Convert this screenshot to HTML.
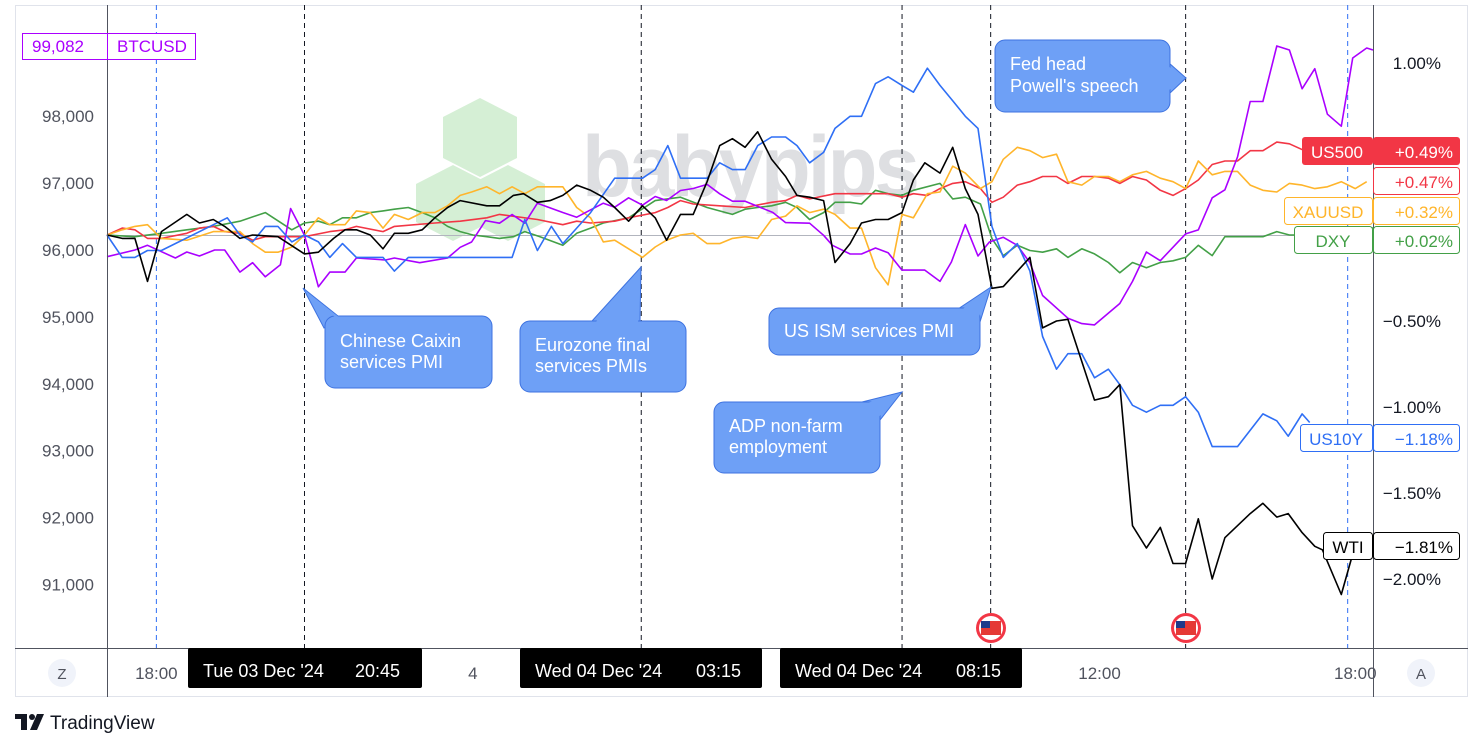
<!DOCTYPE html>
<html><head><meta charset="utf-8">
<style>
html,body{margin:0;padding:0;background:#fff;}
body{width:1484px;height:749px;overflow:hidden;font-family:"Liberation Sans",sans-serif;}
svg{display:block}
</style></head>
<body>
<svg id="chart" width="1484" height="749" viewBox="0 0 1484 749" xmlns="http://www.w3.org/2000/svg" font-family="Liberation Sans, sans-serif">
  <rect x="15.5" y="5.5" width="1452" height="691" fill="#fff" stroke="#e0e3eb"/>
  <!-- watermark -->
  <g>
    <polygon points="480,98 517,117 517,158 480,177 443,158 443,117" fill="#d5efd5"/>
    <polygon points="453,165 490,184 490,222 453,241 416,222 416,184" fill="#d5efd5"/>
    <polygon points="508,165 545,184 545,222 508,241 471,222 471,184" fill="#d5efd5"/>
    <text x="582" y="196" font-size="86" font-weight="bold" fill="#dedfe2" letter-spacing="-3" textLength="335" lengthAdjust="spacingAndGlyphs">babypips</text>
  </g>
  <line x1="107" y1="235.5" x2="1373" y2="235.5" stroke="#b2b5be" stroke-width="1"/>
  <g id="vlines"></g>
  <g id="series"></g>
  <line x1="107.5" y1="5" x2="107.5" y2="697" stroke="#50535e"/>
  <line x1="1373.5" y1="5" x2="1373.5" y2="697" stroke="#50535e"/>
  <line x1="15" y1="648.5" x2="1468" y2="648.5" stroke="#50535e"/>
  <g id="leftTicks" font-size="17" fill="#50535e" text-anchor="end"></g>
  <g id="rightTicks" font-size="17" fill="#131722" text-anchor="end"></g>
  <g id="timeTicks" font-size="17" fill="#50535e" text-anchor="middle"></g>

  <g font-size="18" fill="#fff">
    <g>
      <polygon points="303,288 338,316 324,328" fill="#6ea0f6" stroke="#3d72e0"/>
      <rect x="325" y="316" width="167" height="72" rx="10" fill="#6ea0f6" stroke="#3d72e0"/>
      <polygon points="304,290 336,318 326,330 330,330 340,318" fill="#6ea0f6"/>
      <text x="340" y="347">Chinese Caixin</text><text x="340" y="368">services PMI</text>
    </g>
    <g>
      <polygon points="641,267 592,321 640,321" fill="#6ea0f6" stroke="#3d72e0"/>
      <rect x="520" y="321" width="166" height="71" rx="10" fill="#6ea0f6" stroke="#3d72e0"/>
      <polygon points="640,270 595,323 638,323" fill="#6ea0f6"/>
      <text x="535" y="351">Eurozone final</text><text x="535" y="372">services PMIs</text>
    </g>
    <g>
      <polygon points="902,392 858,403 880,420" fill="#6ea0f6" stroke="#3d72e0"/>
      <rect x="714" y="402" width="166" height="71" rx="10" fill="#6ea0f6" stroke="#3d72e0"/>
      <polygon points="898,394 860,405 878,418" fill="#6ea0f6"/>
      <text x="729" y="432">ADP non-farm</text><text x="729" y="453">employment</text>
    </g>
    <g>
      <polygon points="991,287 958,309 980,322" fill="#6ea0f6" stroke="#3d72e0"/>
      <rect x="769" y="308" width="211" height="47" rx="10" fill="#6ea0f6" stroke="#3d72e0"/>
      <polygon points="988,290 960,311 978,320" fill="#6ea0f6"/>
      <text x="784" y="337">US ISM services PMI</text>
    </g>
    <g>
      <polygon points="1186,78 1169,63 1169,94" fill="#6ea0f6" stroke="#3d72e0"/>
      <rect x="995" y="40" width="175" height="72" rx="10" fill="#6ea0f6" stroke="#3d72e0"/>
      <polygon points="1183,78 1167,65 1167,92" fill="#6ea0f6"/>
      <text x="1010" y="70">Fed head</text><text x="1010" y="92">Powell's speech</text>
    </g>
  </g>

  <g>
    <circle cx="991" cy="628" r="15" fill="#f23645"/><circle cx="991" cy="628" r="12" fill="#fff"/>
    <rect x="981" y="621" width="20" height="14" fill="#e53935"/><rect x="981" y="621" width="9" height="7" fill="#1e3a8a"/>
  </g>
  <g>
    <circle cx="1186" cy="628" r="15" fill="#f23645"/><circle cx="1186" cy="628" r="12" fill="#fff"/>
    <rect x="1176" y="621" width="20" height="14" fill="#e53935"/><rect x="1176" y="621" width="9" height="7" fill="#1e3a8a"/>
  </g>

  <g font-size="17">
    <rect x="22.5" y="33.5" width="85" height="26" fill="#fff" stroke="#aa00ff"/>
    <text x="32" y="52" fill="#aa00ff">99,082</text>
    <rect x="107.5" y="33.5" width="88" height="26" fill="#fff" stroke="#aa00ff"/>
    <text x="117" y="52" fill="#aa00ff">BTCUSD</text>
  </g>
  <g font-size="17">
    <g>
      <rect x="1302" y="137" width="71" height="28" rx="3" fill="#f23645"/><text x="1337" y="158" fill="#fff" text-anchor="middle">US500</text>
      <rect x="1373" y="137" width="87" height="28" rx="3" fill="#f23645"/><text x="1453" y="158" fill="#fff" text-anchor="end">+0.49%</text>
    </g>
    <g>
      <rect x="1373.5" y="167.5" width="86" height="27" rx="3" fill="#fff" stroke="#f23645"/><text x="1453" y="188" fill="#f23645" text-anchor="end">+0.47%</text>
    </g>
    <g>
      <rect x="1284.5" y="197.5" width="88" height="27" rx="3" fill="#fff" stroke="#ffb52b"/><text x="1328" y="218" fill="#ffb52b" text-anchor="middle">XAUUSD</text>
      <rect x="1373.5" y="197.5" width="86" height="27" rx="3" fill="#fff" stroke="#ffb52b"/><text x="1453" y="218" fill="#ffb52b" text-anchor="end">+0.32%</text>
    </g>
    <g>
      <rect x="1294.5" y="226.5" width="78" height="27" rx="3" fill="#fff" stroke="#43a047"/><text x="1333" y="247" fill="#43a047" text-anchor="middle">DXY</text>
      <rect x="1373.5" y="226.5" width="86" height="27" rx="3" fill="#fff" stroke="#43a047"/><text x="1453" y="247" fill="#43a047" text-anchor="end">+0.02%</text>
    </g>
    <g>
      <rect x="1300.5" y="424.5" width="72" height="27" rx="3" fill="#fff" stroke="#2f6ff5"/><text x="1336" y="445" fill="#2f6ff5" text-anchor="middle">US10Y</text>
      <rect x="1373.5" y="424.5" width="86" height="27" rx="3" fill="#fff" stroke="#2f6ff5"/><text x="1453" y="445" fill="#2f6ff5" text-anchor="end">−1.18%</text>
    </g>
    <g>
      <rect x="1323.5" y="532.5" width="49" height="27" rx="3" fill="#fff" stroke="#000"/><text x="1348" y="553" fill="#000" text-anchor="middle">WTI</text>
      <rect x="1373.5" y="532.5" width="86" height="27" rx="3" fill="#fff" stroke="#000"/><text x="1453" y="553" fill="#000" text-anchor="end">−1.81%</text>
    </g>
  </g>

  <g font-size="18" fill="#fff">
    <g><rect x="188" y="648" width="234" height="40" rx="2" fill="#000"/><text x="203" y="677">Tue 03 Dec '24</text><text x="355" y="677">20:45</text></g>
    <g><rect x="520" y="648" width="242" height="40" rx="2" fill="#000"/><text x="535" y="677">Wed 04 Dec '24</text><text x="696" y="677">03:15</text></g>
    <g><rect x="780" y="648" width="242" height="40" rx="2" fill="#000"/><text x="795" y="677">Wed 04 Dec '24</text><text x="956" y="677">08:15</text></g>
  </g>
  <g><circle cx="62" cy="673" r="14" fill="#f0f3fa"/><text x="62" y="679" font-size="15" fill="#50535e" text-anchor="middle">Z</text></g>
  <g><circle cx="1421" cy="673" r="14" fill="#f0f3fa"/><text x="1421" y="679" font-size="15" fill="#50535e" text-anchor="middle">A</text></g>

  <g>
    <path d="M15 714h12v16h-6v-11h-6z" fill="#131722"/>
    <circle cx="32" cy="717" r="3" fill="#131722"/>
    <polygon points="37,714 44,714 37,730 30,730" fill="#131722"/>
    <text x="50" y="729" font-size="19" fill="#131722">TradingView</text>
  </g>
</svg>
<script>
const btcT = [0,2.2,3.2,5.4,6.3,7.3,8.5,9.3,10.5,11.5,12.5,13.7,14.5,15.6,16.7,17.6,18.8,19.7,22,22.7,24.7,26.9,27.9,28.8,29.9,31,32,33,34,36,37.1,39.2,40.1,41.2,42.3,43.3,44.2,45.3,46.3,47.4,48.4,49.4,50.4,52.6,53.6,55.5,56.6,57.3,58.7,59.6,60.7,61.7,62.8,64.6,65.8,66.7,67.8,68.8,69.7,70.8,71.9,72.9,73.9,75.9,77,78,80,81,82.1,83.2,85.2,86.2,87.3,88.3,89.3,90.3,91.3,92.4,93.4,94.4,95.4,96.4,97.5,98.4,99.5,100];
const btcV = [95900,96000,96070,95880,95970,95910,96000,96000,95670,95810,95600,95780,96620,96220,95450,95670,95670,95880,95850,95880,95810,95880,96040,96120,96440,96400,96530,96400,96700,96560,96490,96700,96640,96780,96670,96800,96740,96890,96920,96980,96840,96730,96730,96560,96410,96400,96220,96070,95940,95940,96030,95960,95700,95700,95530,95820,96380,95910,96120,96190,96070,95810,95320,94980,94900,94880,95200,95530,95970,95840,96240,96300,96780,96900,97390,98220,98220,99050,98990,98410,98710,98030,97850,98870,99020,98990];

const wtiT = [0,1.2,2.2,3.2,4.3,6.3,7.3,8.4,9.3,10.5,11.5,13.5,15.6,16.7,17.9,18.8,19.7,20.8,21.8,22.7,23.8,24.9,25.9,26.9,27.9,30,31,32.1,32.9,34,35,36,37.1,38.2,39.2,40.1,41.2,42.3,43.3,44.2,45.3,46.3,47.4,48.4,49.4,50.4,51.4,52.5,53.6,54.5,55.5,56.6,57.5,58.7,59.6,60.7,61.7,62.8,63.7,64.6,65.8,66.8,67.8,68.8,69.9,70.8,72.9,73.9,75,75.9,78,79.1,80,81,82.1,83.2,84.2,85.2,86.2,87.3,88.3,90.3,91.3,92.4,93.3,94.4,95.4,96,97.5,98.3];
const wtiV = [0,-0.02,-0.02,-0.27,0.02,0.12,0.07,0.09,0.05,-0.02,0,-0.01,-0.11,-0.10,-0.02,0.03,0.03,0,-0.08,0.01,0.01,0.03,0.10,0.16,0.20,0.17,0.17,0.23,0.24,0.19,0.20,0.23,0.29,0.26,0.22,0.16,0.08,0.17,0.10,-0.03,0.12,0.12,0.31,0.52,0.56,0.51,0.60,0.44,0.34,0.23,0.22,0.20,-0.16,-0.05,0.07,0.09,0.09,0.13,0.32,0.42,0.36,0.51,0.27,0.12,-0.31,-0.30,-0.13,-0.54,-0.50,-0.49,-0.96,-0.94,-0.87,-1.69,-1.82,-1.70,-1.91,-1.91,-1.65,-2.00,-1.76,-1.62,-1.56,-1.64,-1.62,-1.73,-1.81,-1.83,-2.09,-1.88];

const us10yT = [0,1.2,2.2,3.2,4.3,9.5,10.5,11.5,12.5,13.5,14.6,15.6,16.7,17.6,18.6,19.7,21.8,22.7,23.8,32,33,34,35.1,36,38.2,40.1,42.3,43.3,44.3,45.3,47.4,48.4,49.4,50.4,51.4,52.5,53.6,54.5,55.5,56.6,57.5,58.7,59.6,60.7,61.7,62.8,63.7,64.8,65.8,66.8,67.8,68.8,69.9,70.8,71.9,72.9,73.9,75,75.9,77,78,79.1,80,81,82.1,83.2,84.2,85.2,86.2,87.3,89.3,91.3,92.4,93.3,94.4,95];
const us10yV = [0,-0.13,-0.13,-0.09,-0.09,0.10,0,-0.04,0.05,0.05,-0.04,0,-0.04,-0.13,-0.05,-0.13,-0.13,-0.21,-0.13,-0.13,0.09,-0.09,0.05,-0.05,0.13,0.33,0.33,0.38,0.52,0.33,0.33,0.42,0.38,0.38,0.52,0.57,0.57,0.52,0.42,0.48,0.62,0.69,0.69,0.88,0.92,0.87,0.83,0.97,0.87,0.78,0.69,0.62,0.05,-0.13,-0.05,-0.21,-0.59,-0.78,-0.69,-0.69,-0.83,-0.78,-0.87,-0.99,-1.03,-0.99,-0.99,-0.94,-1.03,-1.23,-1.23,-1.04,-1.08,-1.17,-1.04,-1.09];

const us500T = [0,1.2,2.2,3.2,4.3,6.3,7.3,8.4,9.3,10.5,11.5,12.5,15.6,17.6,18.8,19.7,21.8,22.7,25.9,27.9,30,31,34,36,37.1,38.2,40.1,41.2,43.3,44.3,45.3,46.3,48.4,50.4,52.5,53.6,54.5,55.5,57.5,59.6,61.7,62.8,63.7,64.8,65.8,66.8,67.8,69,69.9,70.8,71.9,72.9,73.9,75,75.9,77,78,79.1,80,81,82.1,83.2,84.2,85.2,86.2,87.3,88.3,89.3,90.3,91.3,92.4,93.4,94.6];
const us500V = [0,0.04,0.03,-0.02,-0.02,0.01,0.04,0.05,0.02,0.01,-0.03,-0.01,-0.01,0.02,0.03,0.05,0.02,0.05,0.07,0.08,0.10,0.12,0.09,0.06,0.08,0.07,0.08,0.10,0.13,0.16,0.20,0.18,0.17,0.16,0.19,0.20,0.23,0.21,0.24,0.24,0.24,0.22,0.24,0.23,0.27,0.30,0.31,0.27,0.19,0.22,0.29,0.31,0.34,0.34,0.30,0.34,0.34,0.33,0.30,0.34,0.32,0.26,0.23,0.27,0.32,0.41,0.43,0.43,0.49,0.49,0.54,0.53,0.49];

const xauT = [0,1.2,2.2,3.2,4.3,6.3,8.4,10.5,11.5,12.5,13.5,14.6,15.6,16.7,17.6,18.8,19.7,20.8,21.8,22.7,23.8,24.9,25.9,26.9,27.9,28.8,30,31,32,33,34,36,37.1,38.2,39.2,40.1,41.2,42.3,43.3,44.2,45.3,46.3,47.4,48.4,49.4,50.4,51.4,52.5,53.6,54.5,55.5,56.6,57.5,58.7,59.6,60.7,61.7,62.8,63.7,64.8,65.8,66.8,67.8,69,69.9,70.8,71.9,72.9,73.9,75,75.9,77,78,79.1,80,81,82.1,83.2,84.2,85.2,86.2,87.3,88.3,89.3,90.3,91.3,92.4,93.4,94.4,95.4,96.4,97.5,98.6,99.5];
const xauV = [0,0.03,0.05,0.06,-0.02,-0.03,0.02,0.02,-0.05,-0.10,-0.10,-0.07,0,0.10,0.06,0.06,0.14,0.13,0.04,0.12,0.09,0.13,0.13,0.17,0.23,0.25,0.28,0.24,0.28,0.24,0.28,0.28,0.16,0.10,-0.04,-0.03,-0.08,-0.13,-0.07,-0.03,0,0.01,-0.05,-0.05,-0.02,-0.01,-0.02,0.09,0.11,0.17,0.13,0.15,0.12,0.04,0.04,-0.19,-0.29,0.12,0.10,0.24,0.25,0.40,0.36,0.27,0.31,0.44,0.51,0.49,0.45,0.47,0.31,0.29,0.34,0.34,0.31,0.35,0.37,0.33,0.31,0.27,0.43,0.35,0.37,0.37,0.29,0.26,0.25,0.30,0.29,0.27,0.28,0.31,0.27,0.31];

const dxyT = [0,2.2,4.3,6.3,8.4,10.5,12.5,14.6,15.6,16.7,17.6,18.6,19.7,20.8,21.8,22.7,23.8,24.9,25.9,26.9,27.9,28.9,30,31,32.1,33,34.2,36,37.1,38.2,39.2,41.2,43.3,45.3,47.4,49.4,50.4,51.4,52.5,53.6,54.5,55.5,56.6,57.5,58.7,59.6,60.7,61.7,62.8,63.7,65.8,66.8,67.8,69,69.9,70.8,71.9,72.9,73.9,75,75.9,77,78,79.1,80,81,82.1,83.2,84.2,85.2,86.2,87.3,88.3,91.3,92.4,93.4,94.4,95.4,97.4,100];
const dxyV = [0,-0.01,0.01,0.03,0.05,0.08,0.13,0.03,0.07,0.08,0.06,0.10,0.10,0.13,0.14,0.15,0.16,0.13,0.10,0.05,0.02,0,-0.01,-0.02,-0.01,0.02,-0.01,-0.06,0.01,0.04,0.07,0.10,0.20,0.22,0.16,0.12,0.15,0.16,0.17,0.19,0.16,0.09,0.13,0.19,0.19,0.18,0.26,0.24,0.23,0.26,0.30,0.21,0.22,0.18,-0.02,-0.12,-0.06,-0.09,-0.10,-0.08,-0.13,-0.08,-0.11,-0.16,-0.22,-0.16,-0.19,-0.16,-0.15,-0.13,-0.06,-0.12,-0.01,-0.01,0.02,0,0,0.02,0.04,0.04];

const leftTickVals = [98000,97000,96000,95000,94000,93000,92000,91000];
const leftTickLabels = ["98,000","97,000","96,000","95,000","94,000","93,000","92,000","91,000"];
const rightTickVals = [1.0,-0.5,-1.0,-1.5,-2.0];
const rightTickLabels = ["1.00%","−0.50%","−1.00%","−1.50%","−2.00%"];
const timeTickBars = [3.9,28.9,78.4,98.6];
const timeTickLabels = ["18:00","4","12:00","18:00"];
const eventBars = [15.6,42.2,62.8,69.8,85.2];
const sessionBars = [3.9,98.0];

const X0 = 107, BAR = 12.66;
function xs(i){ return X0 + i*BAR; }
function yPct(v){ return 235 - v*172; }
function yBtc(p){ return 250 - (p-96000)*0.0669; }

const NS = "http://www.w3.org/2000/svg";
function mk(tag, attrs, parent){
  const el = document.createElementNS(NS, tag);
  for (const k in attrs) el.setAttribute(k, attrs[k]);
  parent.appendChild(el);
  return el;
}

const vg = document.getElementById('vlines');
eventBars.forEach(function(b){
  const l = mk('line',{x1:xs(b),x2:xs(b),y1:5,y2:648,stroke:'#131722','stroke-width':1,'stroke-dasharray':'5,4'},vg);
  
  
});
sessionBars.forEach(function(b){
  const l = mk('line',{x1:xs(b),x2:xs(b),y1:5,y2:648,stroke:'#2f6ff5','stroke-width':1,'stroke-dasharray':'5,4'},vg);
  
  
});

const sg = document.getElementById('series');
function drawSeries(T, V, yf, color, name){
  let d = '';
  for (let k=0;k<T.length;k++){ d += (k?'L':'M') + xs(T[k]).toFixed(1) + ',' + yf(V[k]).toFixed(1); }
  const p = mk('path',{d:d,fill:'none',stroke:color,'stroke-width':1.6,'stroke-linejoin':'round'},sg);
  
  
}
drawSeries(dxyT, dxyV, yPct, '#43a047', 'dxy-line');
drawSeries(us500T, us500V, yPct, '#f23645', 'us500-line');
drawSeries(xauT, xauV, yPct, '#ffb52b', 'xauusd-line');
drawSeries(btcT, btcV, yBtc, '#aa00ff', 'btcusd-line');
drawSeries(us10yT, us10yV, yPct, '#2f6ff5', 'us10y-line');
drawSeries(wtiT, wtiV, yPct, '#000000', 'wti-line');

const lg = document.getElementById('leftTicks');
leftTickVals.forEach(function(v,k){
  const t = mk('text',{x:94,y:yBtc(v)+6},lg);
  t.textContent = leftTickLabels[k];
  
  
});
const rg = document.getElementById('rightTicks');
rightTickVals.forEach(function(v,k){
  const t = mk('text',{x:1441,y:yPct(v)+6},rg);
  t.textContent = rightTickLabels[k];
  
  
});
const tg = document.getElementById('timeTicks');
timeTickBars.forEach(function(b,k){
  const t = mk('text',{x:xs(b),y:679},tg);
  t.textContent = timeTickLabels[k];
  
  
});
</script>
</body></html>
